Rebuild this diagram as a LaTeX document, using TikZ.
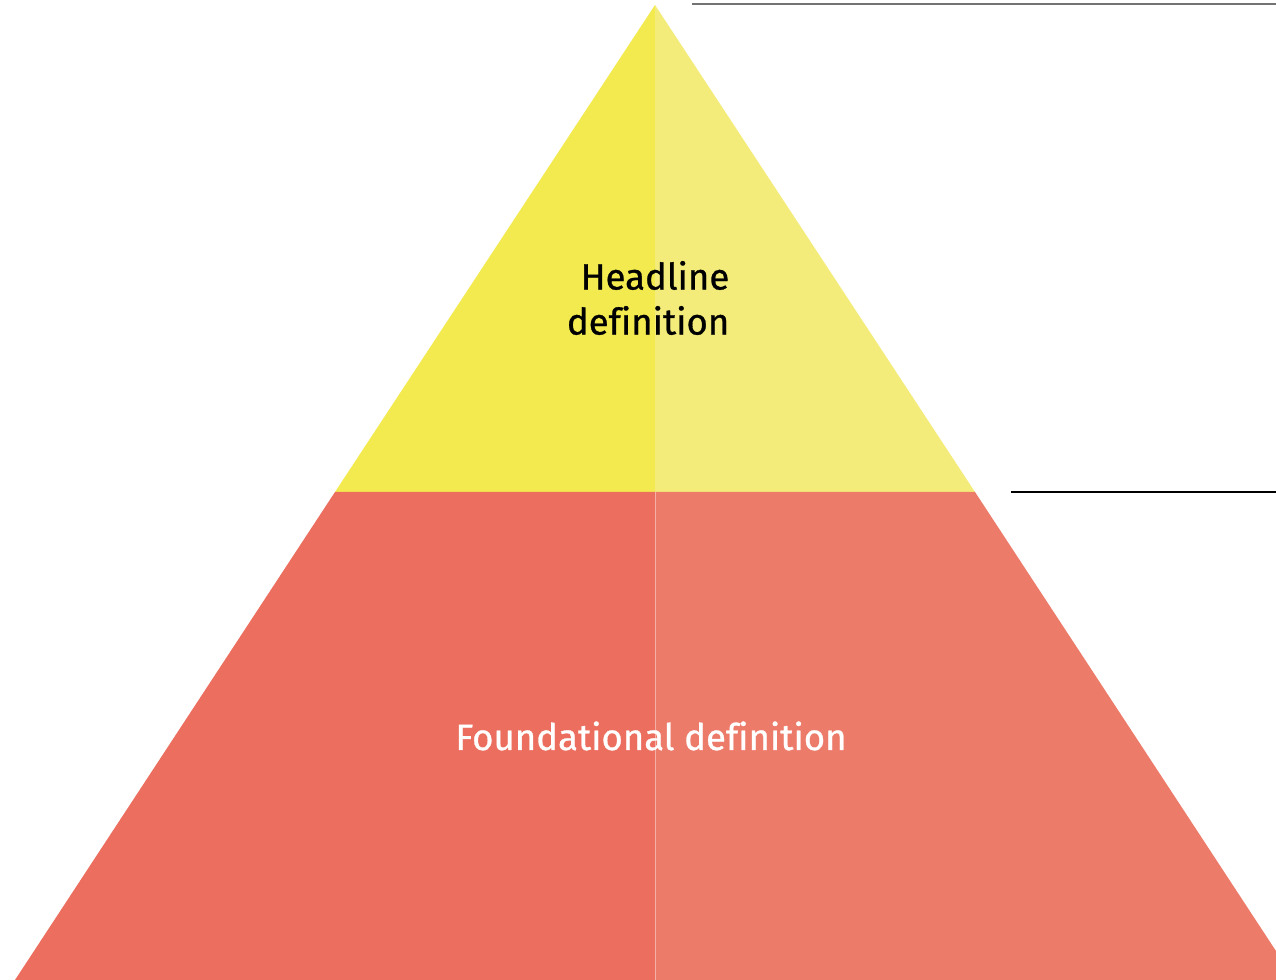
\documentclass[tikz,border=0pt]{standalone}
\usepackage{fontspec}
\setmainfont{Fira Sans}[Ligatures={NoCommon}, UprightFeatures={FakeBold=0.8}]
\usepackage{xcolor}
\usepackage{tikz}
\usetikzlibrary{calc}

\definecolor{yellowDark}{HTML}{F2EA4F}
\definecolor{yellowLight}{HTML}{F4EC7A}
\definecolor{redDark}{HTML}{EB6E5F}
\definecolor{redLight}{HTML}{ED7B6A}

\tikzstyle{tsLabel} = [
    font=\fontsize{10.4}{12.8}\selectfont,
    inner sep=0pt
]
\tikzstyle{tsRule} = [
    line width=0.35pt,
    draw=black
]

\begin{document}
\begin{tikzpicture}[x=0.01cm, y=-0.01cm]

        \useasboundingbox (0,0) rectangle (1276,980);
        \clip (0,0) rectangle (1276,980);

        % corner points of the pyramid
        \coordinate (apex) at (655,5);
        \coordinate (midL) at (335,492);
        \coordinate (midC) at (655,492);
        \coordinate (midR) at (975,492);
        \coordinate (baseL) at (15,980);
        \coordinate (baseC) at (655,980);
        \coordinate (baseR) at (1295,980);

        \fill[yellowDark]  (apex) -- (midL) -- (midC) -- cycle;
        \fill[yellowLight] (apex) -- (midC) -- (midR) -- cycle;
        \fill[redDark]     (midL) -- (baseL) -- (baseC) -- (midC) -- cycle;
        \fill[redLight]    (midC) -- (baseC) -- (baseR) -- (midR) -- cycle;
        \draw[white!40!redLight, line width=0.2pt] (midC) -- (baseC);

        \coordinate (topRuleA) at (692,4);
        \coordinate (topRuleB) at (1276,4);
        \coordinate (midRuleA) at (1011,492);
        \coordinate (midRuleB) at (1276,492);

        \draw[tsRule, draw=black!55, line width=0.6pt] (topRuleA) -- (topRuleB);
        \draw[tsRule] (midRuleA) -- (midRuleB);

        \node[tsLabel, align=right, anchor=east] (headline) at (730,298)
            {Headline\\definition};
        \node[tsLabel, text=white, anchor=base] (foundation) at (651,750)
            {Foundational definition};

\end{tikzpicture}
\end{document}
